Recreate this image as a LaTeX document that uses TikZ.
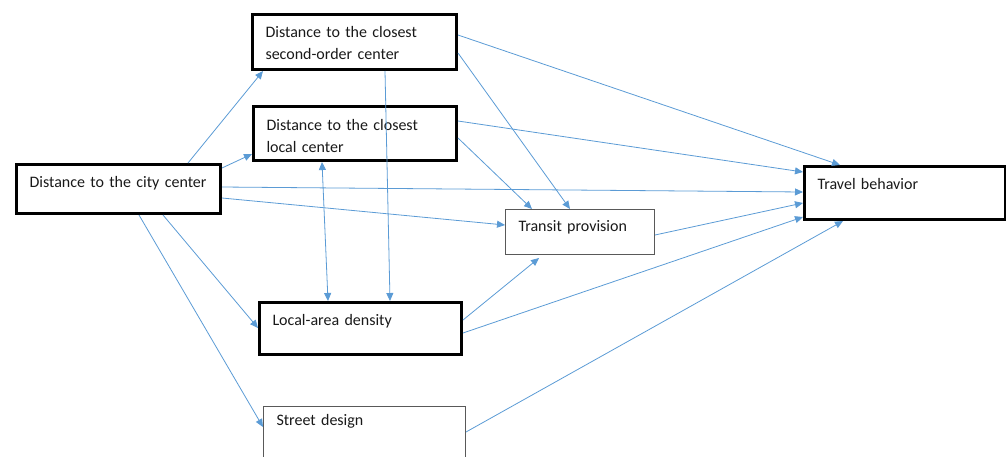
\documentclass[tikz,border=0pt]{standalone}
\usepackage{fontspec}
\setmainfont{Carlito}
\usetikzlibrary{arrows.meta}
\definecolor{linkblue}{HTML}{5B9BD5}

\begin{document}
\begin{tikzpicture} [
					x=1pt,y=-1pt,
					every node/.style={anchor=north west,inner xsep=13pt,inner ysep=0pt,align=left,
						font=\fontsize{16}{22}\selectfont,text=black!90,text height=23pt},
					mainbox/.style={draw=black,line width=3pt},
					sidebox/.style={draw=black!65,line width=1pt},
					link/.style={draw=linkblue,line width=0.8pt,-{Triangle[length=8pt,width=7pt]}},
				]
				\clip (0,0) rectangle (1006,456);
				
				\node[mainbox,text width=178pt,text depth=26pt] (city) at (15,163) {Distance to the city center};
				\node[mainbox,text width=178pt,text depth=32pt] (second) at (251,13) {Distance to the closest\\second-order center};
				\node[mainbox,text width=177pt,text height=24pt,text depth=30pt] (local) at (252,105) {Distance to the closest\\local center};
				\node[sidebox,text width=123pt,text height=22pt,text depth=23pt] (transit) at (505,209) {Transit provision};
				\node[mainbox,text width=176pt,text depth=29pt] (density) at (258,301) {Local-area density};
				\node[sidebox,text width=176pt,text height=19pt,text depth=41pt] (street) at (263,406) {Street design};
				\node[mainbox,text width=175pt,text depth=30pt] (travel) at (803,165) {Travel behavior};
				
				% from the city center
				\draw[link] ([xshift=173pt]city.north west) -- ([xshift=12pt]second.south west);
				\draw[link] ([yshift=-5pt]city.north east) -- ([yshift=8pt]local.south west);
				\draw[link] ([yshift=-24pt]city.north east) -- ([yshift=-27pt]travel.north west);
				\draw[link] ([yshift=-35pt]city.north east) -- ([yshift=-16pt]transit.north west);
				\draw[link] ([xshift=148pt]city.south west) -- ([yshift=-27pt]density.north west);
				\draw[link] ([xshift=124pt]city.south west) -- ([yshift=-21pt]street.north west);
				
				% from the centers
				\draw[link] ([yshift=-22pt]second.north east) -- ([xshift=37pt]travel.north west);
				\draw[link] ([yshift=-40pt]second.north east) -- ([xshift=65pt]transit.north west);
				\draw[link] ([xshift=134pt]second.south west) -- ([xshift=132pt]density.north west);
				\draw[link] ([yshift=-16pt]local.north east) -- ([yshift=-7pt]travel.north west);
				\draw[link] ([yshift=-33pt]local.north east) -- ([xshift=27pt]transit.north west);
				\draw[link,{Triangle[length=8pt,width=7pt]}-{Triangle[length=8pt,width=7pt]}] ([xshift=70pt]local.south west) -- ([xshift=70pt]density.north west);
				
				% to travel behavior
				\draw[link] ([yshift=-26pt]transit.north east) -- ([yshift=-38pt]travel.north west);
				\draw[link] ([yshift=-19pt]density.north east) -- ([xshift=34pt,yshift=-3pt]transit.south west);
				\draw[link] ([yshift=-32pt]density.north east) -- ([yshift=4pt]travel.south west);
				\draw[link] ([yshift=-26pt]street.north east) -- ([xshift=40pt]travel.south west);
				
			\end{tikzpicture}
\end{document}
